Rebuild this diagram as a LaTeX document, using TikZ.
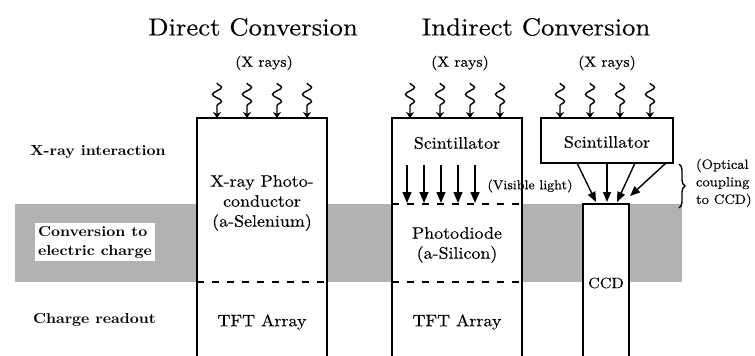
\documentclass[tikz,border=0pt]{standalone}
\usepackage{fontspec}
\setmainfont{lmroman10}[Extension=.otf, UprightFont=*-regular, BoldFont=*-bold,
  FakeStretch=1.08, UprightFeatures={FakeBold=0.3}]
\usetikzlibrary{arrows.meta,decorations.pathmorphing,decorations.pathreplacing}
\definecolor{bandgray}{RGB}{178,178,178}
\begin{document}
\begin{tikzpicture}[x=1pt,y=-1pt,
  every node/.style={inner sep=0pt, outer sep=0pt},
  col/.style={draw, line width=1.4pt, fill=white, anchor=north west},
  sep/.style={line width=1.4pt, dash pattern=on 7pt off 8pt},
  title/.style={font=\fontsize{24.7}{30}\selectfont},
  xr/.style={font=\fontsize{14.6}{18}\selectfont},
  body/.style={font=\fontsize{16.6}{20}\selectfont, align=center},
  stage/.style={font=\fontsize{14.5}{19}\selectfont\bfseries, align=left},
  note/.style={font=\fontsize{13.5}{17.5}\selectfont, align=left},
  small/.style={font=\fontsize{13}{16}\selectfont},
  xray/.style={line width=1.4pt, decorate,
    decoration={snake, amplitude=4.5pt, segment length=14pt, post length=12pt},
    -{Stealth[length=6pt,width=8pt]}},
  light/.style={line width=1.4pt, -{Triangle[length=11pt,width=9pt]}},
  couple/.style={line width=1.4pt, -{Triangle[length=10pt,width=8pt]}},
]
\clip (0,0) rectangle (755,356);
\fill[white] (0,0) rectangle (755,356);
% stage band for charge conversion
\fill[bandgray] (15,204) rectangle (682,282);

% detector columns (open at the bottom edge)
\node[col, minimum width=130pt, minimum height=260pt] (direct) at (197,118) {};
\node[col, minimum width=130pt, minimum height=260pt] (ind) at (392,118) {};
\node[col, minimum width=132pt, minimum height=45pt] (scint) at (541,118) {};
\node[col, minimum width=46pt, minimum height=170pt] (ccd) at (583,204) {};

% layer boundaries
\draw[sep] (197,282) -- (327,282);
\draw[sep] (392,204) -- (522,204);
\draw[sep] (392,282) -- (522,282);

% titles
\node[title] at (253,27) {Direct Conversion};
\node[title] at (536,27) {Indirect Conversion};
\node[xr] at (264,63) {(X rays)};
\node[xr] at (460,63) {(X rays)};
\node[xr] at (607,63) {(X rays)};

% incoming x rays
\foreach \x in {217,247,277,307} \draw[xray] (\x,83) -- (\x,118);
\foreach \x in {410,440,470,500} \draw[xray] (\x,83) -- (\x,118);
\foreach \x in {560,590,620,650} \draw[xray] (\x,83) -- (\x,118);

% stage labels
\node[stage, anchor=west] at (30,152) {X-ray interaction};
\node[stage, fill=white, inner sep=3pt, anchor=west] at (35,242) {Conversion to\\electric charge};
\node[stage, anchor=west] at (33,320) {Charge readout};

% layer texts
\node[body] at (262,203) {X-ray Photo-\\conductor\\(a-Selenium)};
\node[body] at (262,322) {TFT Array};
\node[body] at (457,143) {Scintillator};
\node[body] at (457,245) {Photodiode\\(a-Silicon)};
\node[body] at (457,322) {TFT Array};
\node[body] at (607,142) {Scintillator};
\node[body, font=\fontsize{15}{18}\selectfont] at (606,283) {CCD};

% visible light inside the scintillator
\foreach \x in {407,424,441,458,475} \draw[light] (\x,165) -- (\x,203);
\node[small] at (530,186) {(Visible light)};

% optical coupling to the CCD
\draw[couple] ([xshift=-30pt]scint.south) -- ([xshift=-10pt,yshift=2pt]ccd.north);
\draw[couple] (scint.south) -- ([xshift=1pt,yshift=2pt]ccd.north);
\draw[couple] ([xshift=28pt]scint.south) -- ([xshift=11pt,yshift=2pt]ccd.north);
\draw[couple] ([xshift=-7pt]scint.south east) -- ([xshift=1pt,yshift=8pt]ccd.north east);
\draw[line width=1.4pt, decorate, decoration={brace, amplitude=6pt}] (679,164) -- (679,208);
\node[note, anchor=west] at (696,183) {(Optical\\coupling\\to CCD)};
\end{tikzpicture}
\end{document}
